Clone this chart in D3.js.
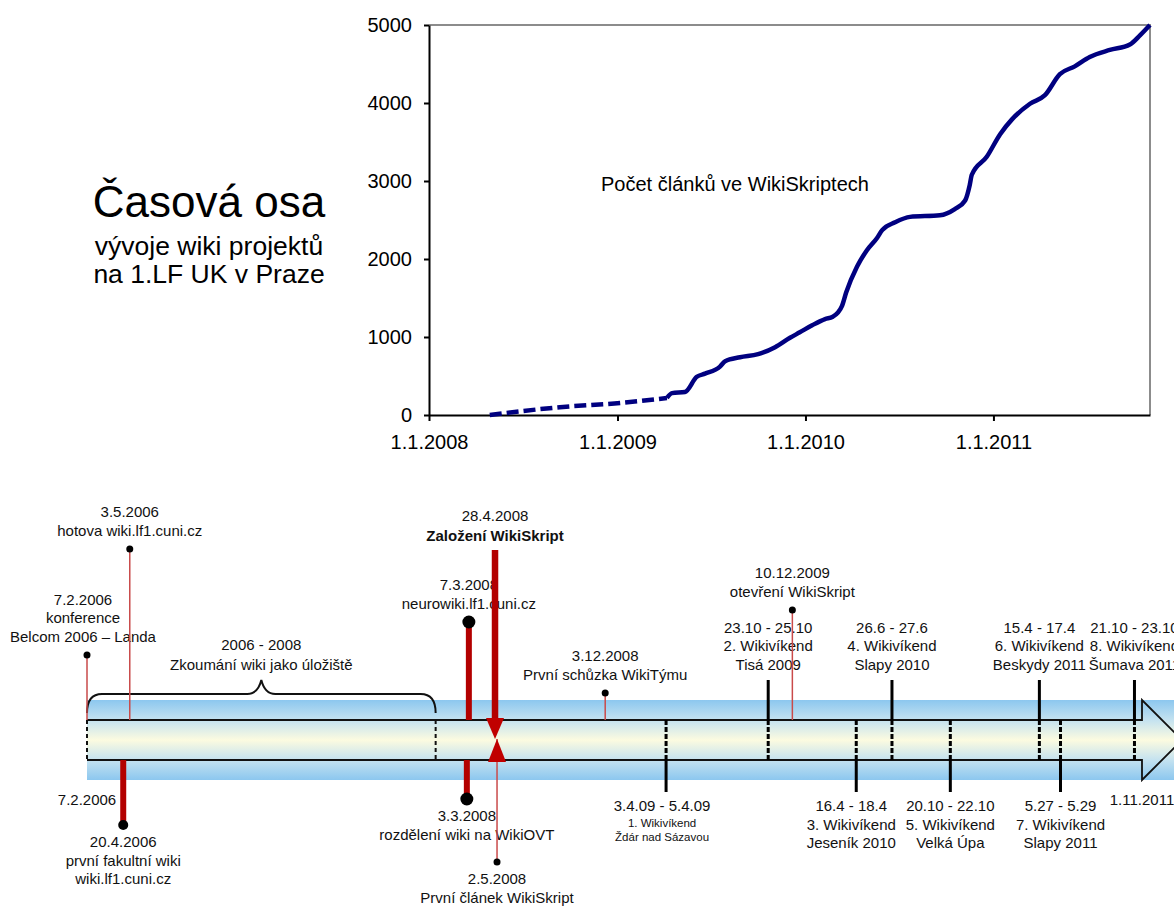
<!DOCTYPE html>
<html>
<head>
<meta charset="utf-8">
<script src="https://cdn.jsdelivr.net/npm/d3@7"></script>
<style>
  body { margin: 0; background: #fff; }
  svg { display: block; font-family: "Liberation Sans", Arial, sans-serif; }
</style>
</head>
<body>
<svg id="chart" width="1174" height="907"></svg>
<script>
// ---- data: article count of WikiSkripta
const articleDates = [
  "2008-04-28", "2008-09-11", "2009-01-06", "2009-04-07", "2009-04-17", "2009-05-12",
  "2009-06-04", "2009-06-20", "2009-07-19", "2009-07-29", "2009-08-27", "2009-10-01",
  "2009-11-03", "2009-12-02", "2009-12-21", "2010-01-14", "2010-02-08", "2010-02-23",
  "2010-03-13", "2010-03-21", "2010-04-11", "2010-04-30", "2010-05-20", "2010-05-30",
  "2010-06-24", "2010-07-23", "2010-09-19", "2010-10-18", "2010-11-07", "2010-11-16",
  "2010-11-20", "2010-12-19", "2011-01-14", "2011-02-06", "2011-03-13", "2011-04-11",
  "2011-05-10", "2011-06-08", "2011-07-07", "2011-08-15", "2011-09-23", "2011-10-13",
  "2011-11-01"
];
const articleCounts = [
  0, 100, 154, 218, 280, 295,
  490, 530, 620, 690, 740, 780,
  870, 990, 1060, 1150, 1230, 1260,
  1400, 1570, 1900, 2110, 2270, 2370,
  2470, 2540, 2560, 2640, 2750, 2950,
  3080, 3310, 3600, 3790, 3990, 4100,
  4370, 4470, 4590, 4680, 4750, 4870,
  5000
];
const estimatedUntil = "2009-04-07";   // dashed part of the curve
const countTicks = [0, 1000, 2000, 3000, 4000, 5000];
const dateTicks = ["2008-01-01", "2009-01-01", "2010-01-01", "2011-01-01"];
const chartNote = "Počet článků ve WikiSkriptech";
const titleLines = ["Časová osa", "vývoje wiki projektů", "na 1.LF UK v Praze"];

// ---- data: timeline events
const eventDates = [
  "2006-02-07", "2006-05-03", "2006-04-20", "2006-02-07", "2008-03-07", "2008-03-03",
  "2008-04-28", "2008-05-02", "2008-12-03", "2009-04-03", "2009-10-23", "2009-12-10",
  "2010-04-16", "2010-06-26", "2010-10-20", "2011-04-15", "2011-05-27", "2011-10-21",
  "2011-11-01"
];
const eventSides = [
  "above", "above", "below", "below", "above", "below",
  "above", "below", "above", "below", "above", "above",
  "below", "above", "below", "above", "below", "above",
  "below"
];
const eventKinds = [
  "note", "note", "major", "label", "major", "major",
  "founding", "firstArticle", "note", "weekend", "weekend", "note",
  "weekend", "weekend", "weekend", "weekend", "weekend", "weekend",
  "label"
];
const eventLabels = [
  ["7.2.2006", "konference", "Belcom 2006 – Landa"],
  ["3.5.2006", "hotova wiki.lf1.cuni.cz"],
  ["20.4.2006", "první fakultní wiki", "wiki.lf1.cuni.cz"],
  ["7.2.2006"],
  ["7.3.2008", "neurowiki.lf1.cuni.cz"],
  ["3.3.2008", "rozdělení wiki na WikiOVT"],
  ["28.4.2008", "Založení WikiSkript"],
  ["2.5.2008", "První článek WikiSkript"],
  ["3.12.2008", "První schůzka WikiTýmu"],
  ["3.4.09 - 5.4.09", "1. Wikivíkend", "Ždár nad Sázavou"],
  ["23.10 - 25.10", "2. Wikivíkend", "Tisá 2009"],
  ["10.12.2009", "otevření WikiSkript"],
  ["16.4 - 18.4", "3. Wikivíkend", "Jeseník 2010"],
  ["26.6 - 27.6", "4. Wikivíkend", "Slapy 2010"],
  ["20.10 - 22.10", "5. Wikivíkend", "Velká Úpa"],
  ["15.4 - 17.4", "6. Wikivíkend", "Beskydy 2011"],
  ["5.27 - 5.29", "7. Wikivíkend", "Slapy 2011"],
  ["21.10 - 23.10", "8. Wikivíkend", "Šumava 2011"],
  ["1.11.2011"]
];
const periodDates = ["2006-02-07", "2008-01-01"];
const periodLabel = ["2006 - 2008", "Zkoumání wiki jako úložiště"];

// ---- layout (not data): stem length from the bar, label nudges
const eventReach = [65, 171, 65, 0, 98, 39, 170, 102, 27, 32, 40, 110, 32, 40, 32, 40, 32, 40, 0];
const labelShift = [-4, 0, 0, 0, 0, 0, 0, 0, 0, -4, 0, 0, -5, 0, 0, 0, 0, 0, 2];

const parse = d3.timeParse("%Y-%m-%d");
const svg = d3.select("#chart");

// =============== upper chart ===============
const points = articleDates.map((d, i) => ({ date: parse(d), value: articleCounts[i] }));
const x = d3.scaleTime().domain(d3.extent([parse("2008-01-01"), ...points.map(p => p.date)])).range([429, 1150]);
const y = d3.scaleLinear().domain([0, 5000]).range([415, 25]);

// grey frame (top, right)
svg.append("path")
  .attr("d", `M${x.range()[0]},${y(5000)}H${x.range()[1]}V${y(0)}`)
  .attr("fill", "none").attr("stroke", "#8c8c8c").attr("stroke-width", 2);

const yAxis = svg.append("g")
  .attr("transform", `translate(${x.range()[0]},0)`)
  .call(d3.axisLeft(y).tickValues(countTicks).tickSize(5).tickSizeOuter(0).tickPadding(12).tickFormat(d3.format("d")));
const xAxis = svg.append("g")
  .attr("transform", `translate(0,${y(0)})`)
  .call(d3.axisBottom(x).tickValues(dateTicks.map(parse)).tickSize(6).tickSizeOuter(0).tickPadding(14)
    .tickFormat(d3.timeFormat("%-d.%-m.%Y")));
[yAxis, xAxis].forEach(g => {
  g.attr("font-size", 20).attr("font-family", "Liberation Sans, Arial, sans-serif");
  g.select(".domain").attr("stroke", "#000").attr("stroke-width", 2);
  g.selectAll(".tick line").attr("stroke", "#000").attr("stroke-width", 2);
  g.selectAll(".tick text").attr("fill", "#000");
});

const line = d3.line().x(d => x(d.date)).y(d => y(d.value)).curve(d3.curveMonotoneX);
const cut = parse(estimatedUntil);
svg.append("path")
  .datum(points.filter(p => p.date <= cut))
  .attr("d", line).attr("fill", "none")
  .attr("stroke", "#000080").attr("stroke-width", 4.5).attr("stroke-dasharray", "12,5");
svg.append("path")
  .datum(points.filter(p => p.date >= cut))
  .attr("d", line).attr("fill", "none")
  .attr("stroke", "#000080").attr("stroke-width", 4.5).attr("stroke-linejoin", "round");

svg.append("text").attr("x", 601).attr("y", 191).attr("font-size", 20).text(chartNote);

// title
svg.append("text").attr("x", 209).attr("y", 217).attr("text-anchor", "middle")
  .attr("font-size", 44).text(titleLines[0]);
svg.selectAll("text.sub").data(titleLines.slice(1)).join("text")
  .attr("class", "sub").attr("x", 209).attr("y", (d, i) => 255 + i * 28)
  .attr("text-anchor", "middle").attr("font-size", 26.5).text(d => d);

// =============== timeline ===============
const barTop = 720, barBottom = 760, bandTop = 700, bandBottom = 780;
const evDates = eventDates.map(parse);
const tx = d3.scaleTime().domain(d3.extent(evDates)).range([87, 1140]);
const tipX = tx.range()[1] + 2;

const grad = svg.append("defs").append("linearGradient")
  .attr("id", "band").attr("gradientUnits", "userSpaceOnUse")
  .attr("x1", 0).attr("y1", bandTop).attr("x2", 0).attr("y2", bandBottom);
[[0, "#8cc7ef"], [0.25, "#c4e2f0"], [0.5, "#fcfbe0"], [0.75, "#c4e2f0"], [1, "#8cc7ef"]]
  .forEach(([o, c]) => grad.append("stop").attr("offset", o).attr("stop-color", c));

const tl = svg.append("g");
tl.append("rect").attr("x", tx.range()[0]).attr("y", bandTop)
  .attr("width", 1174 - tx.range()[0]).attr("height", bandBottom - bandTop).attr("fill", "url(#band)");
// bar + arrow outline
tl.append("path")
  .attr("d", `M${tx.range()[0]},${barTop}H${tipX}V${bandTop}L${tipX + 40},${(barTop + barBottom) / 2}L${tipX},${bandBottom}V${barBottom}H${tx.range()[0]}`)
  .attr("fill", "none").attr("stroke", "#111").attr("stroke-width", 1.8);

// period brace
const p0 = tx(parse(periodDates[0])), p1 = tx(parse(periodDates[1])), pm = (p0 + p1) / 2;
[p0, p1].forEach(px => tl.append("line").attr("x1", px).attr("x2", px).attr("y1", barTop).attr("y2", barBottom)
  .attr("stroke", "#111").attr("stroke-width", 2).attr("stroke-dasharray", "4,3"));
tl.append("path")
  .attr("d", `M${p0},713C${p0},700 ${p0 + 5},694 ${p0 + 15},694H${pm - 14}C${pm - 6},694 ${pm - 2},688 ${pm},680` +
    `C${pm + 2},688 ${pm + 6},694 ${pm + 14},694H${p1 - 15}C${p1 - 5},694 ${p1},700 ${p1},713`)
  .attr("fill", "none").attr("stroke", "#111").attr("stroke-width", 2);
tl.append("text").attr("text-anchor", "middle").attr("font-size", 15).attr("fill", "#111")
  .selectAll("tspan").data(periodLabel).join("tspan")
  .attr("x", pm).attr("y", (d, i) => 650 + i * 19.5).text(d => d);

const thinRed = "#c94a4a", thickRed = "#b30000";
eventDates.forEach((d, i) => {
  const ex = tx(evDates[i]);
  const up = eventSides[i] === "above";
  const kind = eventKinds[i];
  const edge = up ? barTop : barBottom;
  const end = up ? edge - eventReach[i] : edge + eventReach[i];
  const g = tl.append("g");

  if (kind === "note") {
    g.append("line").attr("x1", ex).attr("x2", ex).attr("y1", edge).attr("y2", end)
      .attr("stroke", thinRed).attr("stroke-width", 1.5);
    g.append("circle").attr("cx", ex).attr("cy", end).attr("r", 3.5).attr("fill", "#000");
  } else if (kind === "major") {
    g.append("line").attr("x1", ex).attr("x2", ex).attr("y1", edge).attr("y2", end)
      .attr("stroke", thickRed).attr("stroke-width", 6);
    g.append("circle").attr("cx", ex).attr("cy", end).attr("r", i === 2 ? 5 : 6.5).attr("fill", "#000");
  } else if (kind === "founding") {
    g.append("line").attr("x1", ex).attr("x2", ex).attr("y1", end).attr("y2", barTop + 6)
      .attr("stroke", thickRed).attr("stroke-width", 6.5);
    g.append("path").attr("d", `M${ex - 9},${barTop - 2}H${ex + 9}L${ex},${barTop + 19}Z`).attr("fill", "#c00000");
  } else if (kind === "firstArticle") {
    g.append("line").attr("x1", ex).attr("x2", ex).attr("y1", barTop + 19).attr("y2", end)
      .attr("stroke", thinRed).attr("stroke-width", 1.5);
    g.append("path").attr("d", `M${ex - 9},${barBottom + 2}H${ex + 9}L${ex},${barTop + 19}Z`).attr("fill", "#c00000");
    g.append("circle").attr("cx", ex).attr("cy", end).attr("r", 3.5).attr("fill", "#000");
  } else if (kind === "weekend") {
    g.append("line").attr("x1", ex).attr("x2", ex).attr("y1", up ? end : barBottom).attr("y2", up ? barTop : end)
      .attr("stroke", "#000").attr("stroke-width", 3);
    g.append("line").attr("x1", ex).attr("x2", ex).attr("y1", barTop).attr("y2", barBottom)
      .attr("stroke", "#000").attr("stroke-width", 3).attr("stroke-dasharray", "5,2");
  }

  // labels
  const lines = eventLabels[i];
  const n = lines.length;
  let ys;
  if (kind === "label") {
    ys = lines.map((l, k) => edge + 45 + k * 19);
  } else if (up) {
    const gap = kind === "founding" ? 9 : kind === "weekend" ? 10 : 13;
    const step = kind === "founding" ? 20 : 18.7;
    ys = lines.map((l, k) => end - gap - (n - 1 - k) * step);
  } else {
    const first = end + (kind === "weekend" ? 19 : 22);
    const small = i === 9;
    ys = lines.map((l, k) => first + (small ? (k === 0 ? 0 : 16 + (k - 1) * 14) : k * 18.5));
  }
  const t = g.append("text").attr("text-anchor", "middle").attr("fill", "#111");
  lines.forEach((l, k) => {
    t.append("tspan").attr("x", ex + labelShift[i]).attr("y", ys[k])
      .attr("font-size", i === 9 && k > 0 ? 11.5 : 15)
      .attr("font-weight", kind === "founding" && k === 1 ? "bold" : null)
      .text(l);
  });
});
</script>
</body>
</html>
